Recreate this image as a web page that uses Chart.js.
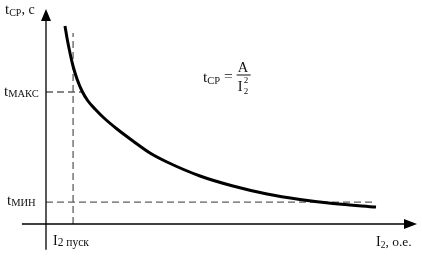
<!DOCTYPE html>
<html>
<head>
<meta charset="utf-8">
<script src="https://cdn.jsdelivr.net/npm/chart.js@4"></script>
<style>
  html, body { margin: 0; padding: 0; background: #fff; }
  #wrap { width: 422px; height: 256px; position: relative; }
</style>
</head>
<body>
<div id="wrap"><canvas id="tcpChart"></canvas></div>
<script>
// curve t_cp = A / I2^2 (relative units)
const curveX = [0.512, 0.566, 0.647, 0.728, 0.836, 0.970, 1.132, 1.321, 1.563, 1.914, 2.345,
                2.803, 3.261, 4.151, 5.040, 5.957, 6.846, 7.736, 8.895];
const curveY = [9.209, 8.651, 7.953, 7.349, 6.744, 6.186, 5.721, 5.349, 4.930, 4.419, 3.860,
                3.302, 2.884, 2.233, 1.767, 1.395, 1.140, 0.953, 0.791];

// guide levels
const i2Pusk = 0.73;
const tMax = 6.14;
const tMin = 1.02;
const guideTop = 8.88;     // top of the dashed I2 pusk line
const tMaxEnd = 0.97;      // where the t_max dashes stop
const tMinEnd = 8.81;      // where the t_min dashes stop

const SERIF = "'Liberation Serif','DejaVu Serif',serif";

function drawRuns(c, runs, x) {
  // runs: [text, size, baseline]
  runs.forEach(r => {
    c.font = r[1] + 'px ' + SERIF;
    c.fillText(r[0], x, r[2]);
    x += c.measureText(r[0]).width;
  });
  return x;
}

const axesPlugin = {
  id: 'axesAndLabels',
  afterDraw(chart) {
    const { ctx: c, scales: { x, y } } = chart;
    const x0 = x.getPixelForValue(0), y0 = y.getPixelForValue(0);
    const yTop = y.getPixelForValue(10), xEnd = x.getPixelForValue(10);
    c.save();
    c.strokeStyle = '#000';
    c.fillStyle = '#000';
    c.lineWidth = 1.3;
    // y axis, runs a bit below the x axis
    c.beginPath();
    c.moveTo(x0, y.getPixelForValue(-1.2));
    c.lineTo(x0, yTop + 8);
    c.stroke();
    // x axis, starts a bit left of the y axis
    c.beginPath();
    c.moveTo(x.getPixelForValue(-0.65), y0);
    c.lineTo(xEnd - 8, y0);
    c.stroke();
    // arrow heads
    c.beginPath();
    c.moveTo(x0, yTop);
    c.lineTo(x0 - 5, yTop + 12);
    c.lineTo(x0 + 5, yTop + 12);
    c.closePath();
    c.fill();
    c.beginPath();
    c.moveTo(xEnd, y0);
    c.lineTo(xEnd - 13, y0 - 5);
    c.lineTo(xEnd - 13, y0 + 5);
    c.closePath();
    c.fill();

    // labels
    c.fillStyle = '#111';
    c.textAlign = 'left';
    drawRuns(c, [['t', 15, 14], ['СР', 10, 16], [', с', 14, 14]], 5);
    drawRuns(c, [['t', 15, 96], ['МАКС', 10.5, 97]], 4);
    drawRuns(c, [['t', 15, 205], ['МИН', 10.5, 206]], 7);
    drawRuns(c, [['I', 14, 245], ['2 пуск', 11.5, 246]], 53);
    drawRuns(c, [['I', 14, 246], ['2', 9.5, 248], [', о.е.', 13.5, 246]], 376);

    // formula
    const eqEnd = drawRuns(c, [['t', 15.5, 82], ['СР', 10.5, 84], [' = ', 15.5, 81]], 203);
    c.font = '14.5px ' + SERIF;
    c.fillText('A', eqEnd + 1, 72);
    c.fillRect(eqEnd, 74.5, 14, 1);
    c.fillText('I', eqEnd + 1, 91);
    c.font = '9px ' + SERIF;
    c.fillText('2', eqEnd + 7, 83);
    c.fillText('2', eqEnd + 7, 94);
    c.restore();
  }
};

const dashStyle = {
  borderColor: '#5f5f5f',
  borderWidth: 1.3,
  borderDash: [7, 4],
  pointRadius: 0,
  fill: false,
  tension: 0
};

new Chart(document.getElementById('tcpChart'), {
  type: 'line',
  data: {
    datasets: [
      {
        label: 'tcp',
        data: curveX.map((v, i) => ({ x: v, y: curveY[i] })),
        borderColor: '#000',
        borderWidth: 3,
        pointRadius: 0,
        cubicInterpolationMode: 'monotone',
        fill: false
      },
      Object.assign({ label: 'I2 пуск', data: [{ x: i2Pusk, y: 0 }, { x: i2Pusk, y: guideTop }] }, dashStyle),
      Object.assign({ label: 'tмакс', data: [{ x: 0, y: tMax }, { x: tMaxEnd, y: tMax }] }, dashStyle),
      Object.assign({ label: 'tмин', data: [{ x: 0, y: tMin }, { x: tMinEnd, y: tMin }] }, dashStyle)
    ]
  },
  options: {
    responsive: true,
    maintainAspectRatio: false,
    animation: false,
    events: [],
    layout: { padding: { left: 46, right: 5, top: 9, bottom: 32 } },
    scales: {
      x: { type: 'linear', min: 0, max: 10, display: false },
      y: { type: 'linear', min: 0, max: 10, display: false }
    },
    plugins: {
      legend: { display: false },
      tooltip: { enabled: false }
    }
  },
  plugins: [axesPlugin]
});
</script>
</body>
</html>
